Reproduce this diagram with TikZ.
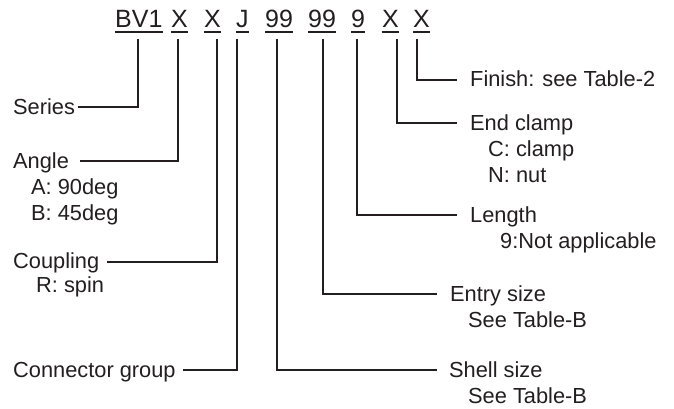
\documentclass[tikz,border=0pt]{standalone}
\usepackage{fontspec}
\setmainfont{Liberation Sans}
\definecolor{ink}{HTML}{231F20}
\tikzset{
  conn/.style={draw=ink, line width=1.4pt},
  uline/.style={draw=ink, line width=1.7pt},
  hdr/.style={inner sep=0pt, anchor=base west, font=\fontsize{25}{28}\selectfont, text=ink},
  lab/.style={inner sep=0pt, anchor=base west, font=\fontsize{21.8}{26}\selectfont, text=ink},
}
\begin{document}
\begin{tikzpicture}[x=1pt,y=-1pt]
\useasboundingbox[fill=white] (0,0) rectangle (674,409);
% header code
\node[hdr] (hBV) at (115,28) {BV1};
\node[hdr] (hXa) at (171,28) {X};
\node[hdr] (hXb) at (204,28) {X};
\node[hdr] (hJ)  at (236,28) {J};
\node[hdr] (hNa) at (265,28) {99};
\node[hdr] (hNb) at (308,28) {99};
\node[hdr] (hL)  at (351,28) {9};
\node[hdr] (hXc) at (382,28) {X};
\node[hdr] (hXd) at (413,28) {X};
\foreach \n in {hBV,hXa,hXb,hJ,hNa,hNb,hL,hXc,hXd}
  \draw[uline] ([yshift=-4pt]\n.base west) -- ([yshift=-4pt]\n.base east);
% top ends of the connectors
\coordinate (tBV) at (138,39);
\coordinate (tXa) at (178,39);
\coordinate (tXb) at (217,39);
\coordinate (tJ)  at (237,39);
\coordinate (tNa) at (277,39);
\coordinate (tNb) at (323,39);
\coordinate (tL)  at (357,39);
\coordinate (tXc) at (397,39);
\coordinate (tXd) at (417,39);
% left labels
\node[lab] (series) at (13,114) {Series};
\node[lab] (angle) at (13,168) {Angle};
\node[lab] (angA) at (31,194) {A: 90deg};
\node[lab] (angB) at (31,220) {B: 45deg};
\node[lab] (coupling) at (13,268) {Coupling};
\node[lab] (coupR) at (36,292) {R: spin};
\node[lab] (group) at (13,377) {Connector group};
% right labels
\node[lab] (finish) at (470,87) {Finish: see Table-2};
\node[lab] (clamp) at (470,130) {End clamp};
\node[lab] (clampC) at (488,156) {C: clamp};
\node[lab] (clampN) at (488,182) {N: nut};
\node[lab] (length) at (470,222) {Length};
\node[lab] (lengthN) at (500,248) {9:Not applicable};
\node[lab] (entry) at (450,301) {Entry size};
\node[lab] (entryB) at (468,327) {See Table-B};
\node[lab] (shell) at (449,377) {Shell size};
\node[lab] (shellB) at (468,403) {See Table-B};
% free ends next to the labels
\coordinate (eSeries) at (78,107);
\coordinate (eAngle) at (80,161);
\coordinate (eCoupling) at (107,262);
\coordinate (eGroup) at (183,370);
\coordinate (eFinish) at (457,80);
\coordinate (eClamp) at (457,123);
\coordinate (eLength) at (457,215);
\coordinate (eEntry) at (437,294);
\coordinate (eShell) at (437,370);
% connectors
\draw[conn] (tBV) |- (eSeries);
\draw[conn] (tXa) |- (eAngle);
\draw[conn] (tXb) |- (eCoupling);
\draw[conn] (tJ)  |- (eGroup);
\draw[conn] (tNa) |- (eShell);
\draw[conn] (tNb) |- (eEntry);
\draw[conn] (tL)  |- (eLength);
\draw[conn] (tXc) |- (eClamp);
\draw[conn] (tXd) |- (eFinish);
\end{tikzpicture}
\end{document}
